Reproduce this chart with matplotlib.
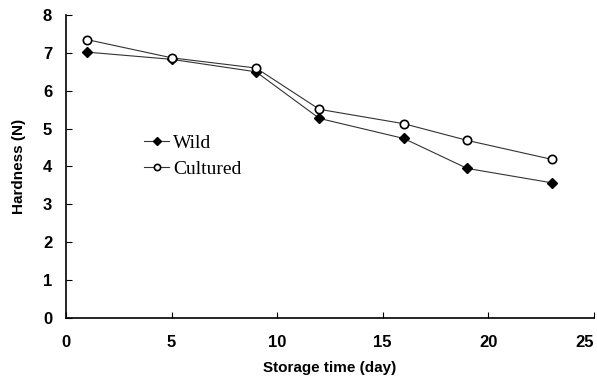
import matplotlib.pyplot as plt

# storage days and hardness readings (N)
days = [1, 5, 9, 12, 16, 19, 23]
wild = [7.02, 6.83, 6.50, 5.27, 4.74, 3.95, 3.57]
cultured = [7.35, 6.87, 6.60, 5.51, 5.13, 4.69, 4.19]

x_ticks = [0, 5, 10, 15, 20, 25]
y_ticks = [0, 1, 2, 3, 4, 5, 6, 7, 8]

plt.rcParams['font.family'] = 'Liberation Sans'

fig = plt.figure(figsize=(5.97, 3.81), dpi=100)
ax = fig.add_axes([0.1106, 0.1654, 0.884, 0.7952])

ax.plot(days, wild, color='#333333', lw=0.8, marker='D', ms=5,
        mfc='black', mec='black', label='Wild')
ax.plot(days, cultured, color='#333333', lw=0.8, marker='o', ms=6,
        mfc='white', mec='black', mew=1.2, label='Cultured')

ax.set_xlim(0, 25)
ax.set_ylim(0, 8)
ax.set_xticks(x_ticks)
ax.set_yticks(y_ticks)
ax.spines['top'].set_visible(False)
ax.spines['right'].set_visible(False)
ax.spines['left'].set_linewidth(1.2)
ax.spines['bottom'].set_linewidth(1.2)
ax.tick_params(axis='x', direction='in', length=4, pad=12, labelsize=12)
ax.tick_params(axis='y', direction='in', length=4, pad=10, labelsize=12)
for lbl in ax.get_xticklabels() + ax.get_yticklabels():
    lbl.set_fontweight('bold')
ax.get_xticklabels()[-1].set_horizontalalignment('right')

ax.set_xlabel('Storage time (day)', fontsize=11, fontweight='bold', labelpad=8)
ax.set_ylabel('Hardness (N)', fontsize=11, fontweight='bold', labelpad=12)

leg = ax.legend(loc='upper left', bbox_to_anchor=(0.115, 0.665), frameon=False,
                handlelength=1.3, handletextpad=0.2, labelspacing=0.45,
                markerscale=0.75,
                prop={'family': 'Liberation Serif', 'size': 14})

fig.savefig('out.png', dpi=100)
